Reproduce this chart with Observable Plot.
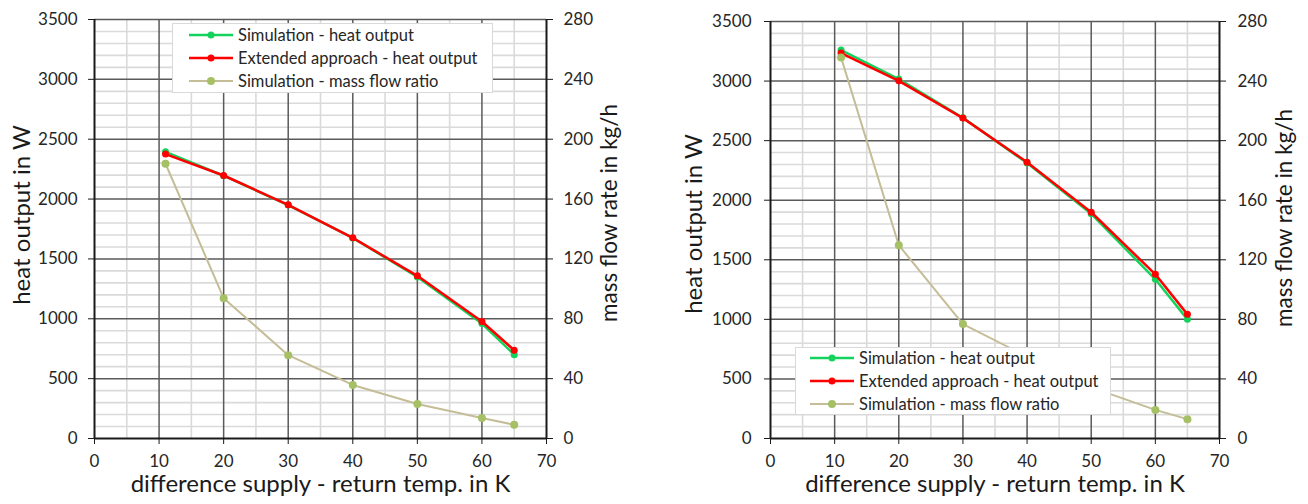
<!DOCTYPE html>
<html>
<head>
<meta charset="utf-8">
<script src="https://cdn.jsdelivr.net/npm/d3@7"></script>
<script src="https://cdn.jsdelivr.net/npm/@observablehq/plot@0.6"></script>
<style>
  html, body { margin: 0; padding: 0; background: #fff; }
  #wrap { position: relative; width: 1308px; height: 504px; display: flex; font-family: Lato, "Open Sans", sans-serif; }
  #wrap svg { display: block; }
  .legend { position: absolute; background: #fff; border: 1px solid #d9d9d9; box-sizing: border-box; font-size: 16.5px; color: #262626; }
  .legend .row { position: absolute; left: 0; height: 20px; display: flex; align-items: center; white-space: nowrap; }
  .legend .row span { margin-left: 5px; }
</style>
</head>
<body>
<div id="wrap"></div>
<script>
// ---------- data ----------
const dT = [11, 20, 30, 40, 50, 60, 65];                       // difference supply - return temp. in K

// left chart
const leftHeatSim  = [2395, 2195, 1950, 1675, 1350, 960, 700];  // W
const leftHeatExt  = [2376, 2197, 1952, 1676, 1359, 977, 737];  // W
const leftMassSim  = [183.6, 93.8, 55.7, 35.8, 23.0, 13.7, 9.2]; // kg/h

// right chart
const rightHeatSim = [3260, 3017, 2692, 2312, 1886, 1336, 1000]; // W
const rightHeatExt = [3235, 3002, 2689, 2319, 1899, 1378, 1042]; // W
const rightMassSim = [255.9, 129.8, 76.8, 55.0, 34.3, 19.2, 13.0]; // kg/h

const seriesNames = ["Simulation - heat output", "Extended approach - heat output", "Simulation - mass flow ratio"];
const seriesColors = ["#14d35c", "#ff0000", "#c4bd97"];
const massDotColor = "#a6c066";

const heatTicks = [0, 500, 1000, 1500, 2000, 2500, 3000, 3500];
const massMax = 280, heatMax = 3500;
const massToHeat = heatMax / massMax;  // secondary axis mapping
const xTicks = [0, 10, 20, 30, 40, 50, 60, 70];

const xTitle = "difference supply - return temp. in K";
const yTitle = "heat output in W";
const y2Title = "mass flow rate in kg/h";

function rows(vals) { return dT.map((x, i) => ({x, v: vals[i]})); }

function chart({heatSim, heatExt, massSim, m, yPad, y2Pad, yTitleDx, y2TitleDx, yTitleDy, y2TitleDy}) {
  const font = "Lato, 'Open Sans', sans-serif";
  return Plot.plot({
    width: 654, height: 504,
    marginLeft: m.l, marginRight: m.r, marginTop: m.t, marginBottom: m.b,
    style: {fontFamily: font, fontSize: "17px", color: "#262626", background: "#fff", overflow: "visible"},
    x: {domain: [0, 70]},
    y: {domain: [0, heatMax]},
    marks: [
      // minor grid
      Plot.ruleX(d3.range(5, 70, 10), {stroke: "#dadada", strokeWidth: 1.6}),
      Plot.ruleY(d3.range(100, 3501, 100).filter(v => v % 500), {stroke: "#dadada", strokeWidth: 1.6}),
      // major grid
      Plot.ruleX(d3.range(10, 70, 10), {stroke: "#5a5a5a", strokeWidth: 1.5}),
      Plot.ruleY(d3.range(500, 3501, 500), {stroke: "#5a5a5a", strokeWidth: 1.5}),
      // axis lines
      Plot.ruleX([0, 70], {stroke: "#1a1a1a", strokeWidth: 2}),
      Plot.ruleY([0], {stroke: "#1a1a1a", strokeWidth: 2}),
      // axes
      Plot.axisX({ticks: xTicks, tickSize: 6, tickPadding: 10, label: null, tickFormat: d => String(d), stroke: "#1a1a1a"}),
      Plot.axisY({ticks: heatTicks, tickSize: 6, tickPadding: yPad, label: null, tickFormat: d => String(d), stroke: "#1a1a1a"}),
      Plot.axisY({anchor: "right", ticks: heatTicks, tickSize: 6, tickPadding: y2Pad, label: null,
                  tickFormat: d => String(Math.round(d / massToHeat)), stroke: "#1a1a1a"}),
      // titles
      Plot.text([xTitle], {frameAnchor: "bottom", dy: 53.5, fontSize: 24, fill: "#1a1a1a"}),
      Plot.text([yTitle], {frameAnchor: "left", rotate: -90, textAnchor: "middle", dx: yTitleDx, dy: yTitleDy, fontSize: 24, fill: "#1a1a1a"}),
      Plot.text([y2Title], {frameAnchor: "right", rotate: -90, textAnchor: "middle", dx: y2TitleDx, dy: y2TitleDy, fontSize: 22.5, fill: "#1a1a1a"}),
      // data
      Plot.line(rows(heatSim), {x: "x", y: "v", stroke: seriesColors[0], strokeWidth: 2.5}),
      Plot.dot(rows(heatSim), {x: "x", y: "v", fill: seriesColors[0], r: 3.5}),
      Plot.line(rows(heatExt), {x: "x", y: "v", stroke: seriesColors[1], strokeWidth: 2.5}),
      Plot.dot(rows(heatExt), {x: "x", y: "v", fill: seriesColors[1], r: 3.5}),
      Plot.line(rows(massSim), {x: "x", y: d => d.v * massToHeat, stroke: seriesColors[2], strokeWidth: 2}),
      Plot.dot(rows(massSim), {x: "x", y: d => d.v * massToHeat, fill: massDotColor, r: 4})
    ]
  });
}

const wrap = document.getElementById("wrap");
wrap.appendChild(chart({
  heatSim: leftHeatSim, heatExt: leftHeatExt, massSim: leftMassSim,
  m: {l: 94, r: 108, t: 19, b: 66}, yPad: 11, y2Pad: 11,
  yTitleDx: -72, y2TitleDx: 63, yTitleDy: -14, y2TitleDy: -16
}));
wrap.appendChild(chart({
  heatSim: rightHeatSim, heatExt: rightHeatExt, massSim: rightMassSim,
  m: {l: 116, r: 89, t: 21, b: 66}, yPad: 13, y2Pad: 12,
  yTitleDx: -76, y2TitleDx: 65, yTitleDy: -6, y2TitleDy: -12
}));

// legends
function legend(box, sw) {
  const div = document.createElement("div");
  div.className = "legend";
  Object.assign(div.style, {left: box.x + "px", top: box.y + "px", width: box.w + "px", height: box.h + "px"});
  seriesNames.forEach((name, i) => {
    const row = document.createElement("div");
    row.className = "row";
    row.style.top = (box.first + i * 23 - 10) + "px";
    row.style.left = sw.x0 + "px";
    const ns = "http://www.w3.org/2000/svg";
    const s = document.createElementNS(ns, "svg");
    s.setAttribute("width", sw.w); s.setAttribute("height", 20);
    const ln = document.createElementNS(ns, "line");
    ln.setAttribute("x1", 0); ln.setAttribute("x2", sw.w); ln.setAttribute("y1", 10); ln.setAttribute("y2", 10);
    ln.setAttribute("stroke", seriesColors[i]); ln.setAttribute("stroke-width", i === 2 ? 2 : 2.5);
    const c = document.createElementNS(ns, "circle");
    c.setAttribute("cx", sw.w / 2); c.setAttribute("cy", 10); c.setAttribute("r", i === 2 ? 4 : 3.5);
    c.setAttribute("fill", i === 2 ? massDotColor : seriesColors[i]);
    s.appendChild(ln); s.appendChild(c);
    const t = document.createElement("span");
    t.textContent = name;
    row.appendChild(s); row.appendChild(t);
    div.appendChild(row);
  });
  wrap.appendChild(div);
}
legend({x: 172, y: 23, w: 321, h: 70, first: 11}, {x0: 16, w: 44});
legend({x: 795, y: 347, w: 316, h: 68, first: 10}, {x0: 14, w: 44});
</script>
</body>
</html>
